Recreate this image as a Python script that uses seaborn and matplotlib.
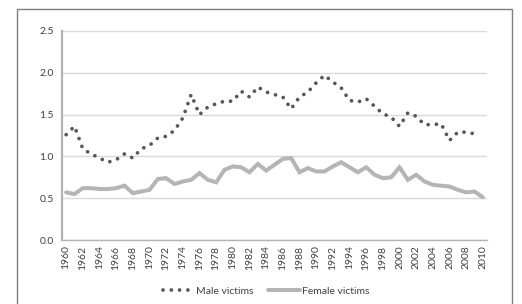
import matplotlib
matplotlib.use("Agg")
import matplotlib.pyplot as plt
import numpy as np
import pandas as pd
import seaborn as sns
from matplotlib.patches import Rectangle

# Victimisation rates per year
years = list(range(1960, 2011))
male_victims = [
    1.26, 1.36, 1.09, 1.03, 0.98, 0.93, 0.96, 1.03, 0.98, 1.09,
    1.13, 1.22, 1.24, 1.31, 1.46, 1.74, 1.50, 1.59, 1.63, 1.66,
    1.66, 1.78, 1.71, 1.83, 1.77, 1.74, 1.71, 1.57, 1.71, 1.77,
    1.88, 1.97, 1.89, 1.82, 1.67, 1.65, 1.69, 1.60, 1.51, 1.47,
    1.36, 1.52, 1.48, 1.38, 1.38, 1.39, 1.19, 1.29, 1.29, 1.27,
    np.nan,
]
female_victims = [
    0.57, 0.55, 0.62, 0.62, 0.61, 0.61, 0.62, 0.65, 0.56, 0.58,
    0.60, 0.73, 0.74, 0.67, 0.70, 0.72, 0.80, 0.72, 0.69, 0.84,
    0.88, 0.87, 0.81, 0.91, 0.83, 0.90, 0.97, 0.98, 0.81, 0.86,
    0.82, 0.82, 0.88, 0.93, 0.87, 0.81, 0.87, 0.78, 0.74, 0.75,
    0.87, 0.72, 0.78, 0.70, 0.66, 0.65, 0.64, 0.60, 0.57, 0.58,
    0.51,
]
y_ticks = [0.0, 0.5, 1.0, 1.5, 2.0, 2.5]
x_label_years = years[::2]

df = pd.DataFrame({
    "year": years,
    "male": male_victims,
    "female": female_victims,
})

sns.set_style("white")
plt.rcParams["font.family"] = ["Lato", "DejaVu Sans"]

TEXT = "#404040"
AXIS = "#b3b3b3"

fig = plt.figure(figsize=(5.22, 3.04), dpi=100)
ax = fig.add_axes([62 / 522, 64 / 304, 425 / 522, 209 / 304])

sns.lineplot(
    data=df, x="year", y="male", ax=ax,
    color="#575757", linewidth=2.7,
    linestyle=(0, (0.01, 2.2)), dash_capstyle="round",
    label="Male victims",
)
sns.lineplot(
    data=df, x="year", y="female", ax=ax,
    color="#b5b5b5", linewidth=2.9,
    solid_joinstyle="miter",
    label="Female victims",
)

ax.set_xlim(1959.5, 2010.5)
ax.set_ylim(0, 2.5)
ax.set_xlabel("")
ax.set_ylabel("")

ax.set_yticks(y_ticks)
ax.set_yticklabels([f"{v:.1f}" for v in y_ticks])
ax.set_xticks(x_label_years)
ax.set_xticklabels([str(y) for y in x_label_years], rotation=90)
ax.set_xticks(np.arange(1959.5, 2011, 1), minor=True)

ax.tick_params(axis="x", which="major", length=0, pad=4,
               labelsize=7.5, labelcolor=TEXT)
ax.tick_params(axis="x", which="minor", length=3, width=0.8,
               color=AXIS, direction="out")
ax.tick_params(axis="y", which="major", length=3, width=0.8,
               color=AXIS, labelsize=7.5, labelcolor=TEXT, pad=3)

ax.grid(axis="y", color="#d9d9d9", linewidth=1)
ax.set_axisbelow(True)
for side in ("top", "right"):
    ax.spines[side].set_visible(False)
ax.spines["left"].set_color(AXIS)
ax.spines["left"].set_linewidth(1.6)
ax.spines["bottom"].set_color(AXIS)
ax.spines["bottom"].set_linewidth(1.0)

handles, labels = ax.get_legend_handles_labels()
ax.get_legend().remove()
fig.legend(
    handles, labels,
    loc="center", bbox_to_anchor=(266 / 522, 1 - 291 / 304),
    ncol=2, frameon=False, fontsize=7.5, labelcolor=TEXT,
    handlelength=3.0, handletextpad=0.2, columnspacing=1.4,
)

# Outer frame around the chart (bottom edge sits below the image)
fig.add_artist(Rectangle(
    (17 / 522, -0.05), (512 - 17) / 522, 1 - 9 / 304 + 0.05,
    transform=fig.transFigure, fill=False,
    edgecolor="#7f7f7f", linewidth=1,
))

fig.savefig("out.png", dpi=100)
